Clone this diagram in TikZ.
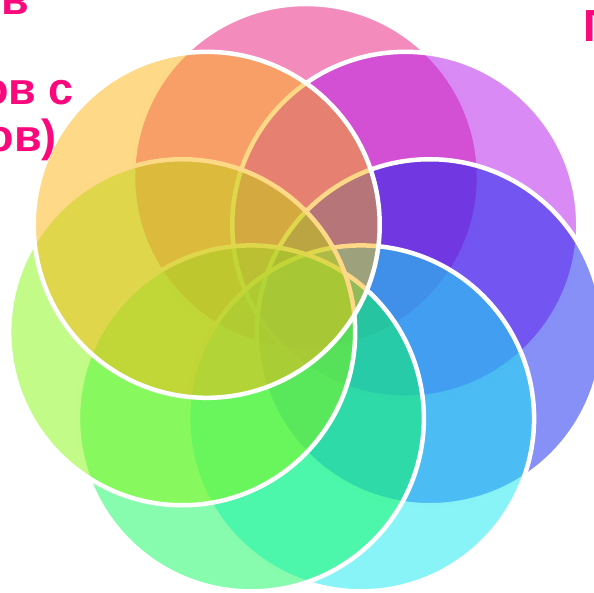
\documentclass[tikz,border=0pt]{standalone}
\usepackage{fontspec}
\setmainfont{Liberation Sans}
\definecolor{cpink}{RGB}{233,23,123}
\definecolor{clilac}{RGB}{179,21,235}
\definecolor{cperi}{RGB}{15,33,239}
\definecolor{ccyan}{RGB}{17,233,241}
\definecolor{cmint}{RGB}{17,249,93}
\definecolor{clime}{RGB}{135,247,17}
\definecolor{cyellow}{RGB}{251,179,17}
\definecolor{textmag}{RGB}{250,8,124}
\tikzset{
  ring/.style={draw=white, line width=4.5pt, fill opacity=0.5},
  lbl/.style={text=textmag, font=\bfseries\fontsize{45}{47}\selectfont, inner sep=0pt}
}
\begin{document}
\begin{tikzpicture}[x=1pt,y=1pt]
\useasboundingbox (0,0) rectangle (594,593);
\coordinate (O) at (306,289);
\foreach \n/\a/\c in {A/90/cpink, B/38.571/clilac, C/-12.857/cperi, D/-64.286/ccyan, E/-115.714/cmint, F/-167.143/clime, G/141.429/cyellow}{
  \path (O) ++(\a:127) coordinate (\n);
  \draw[ring, fill=\c] (\n) circle[radius=173];
}
\node[lbl, anchor=base east] (t1) at (29,578) {ов};
\node[lbl, anchor=base east] (t2) at (74,488) {ов с};
\node[lbl, anchor=base east] (t3) at (57,441) {ов)};
\node[lbl, anchor=base west] (t4) at (583,551) {П};
\end{tikzpicture}
\end{document}
